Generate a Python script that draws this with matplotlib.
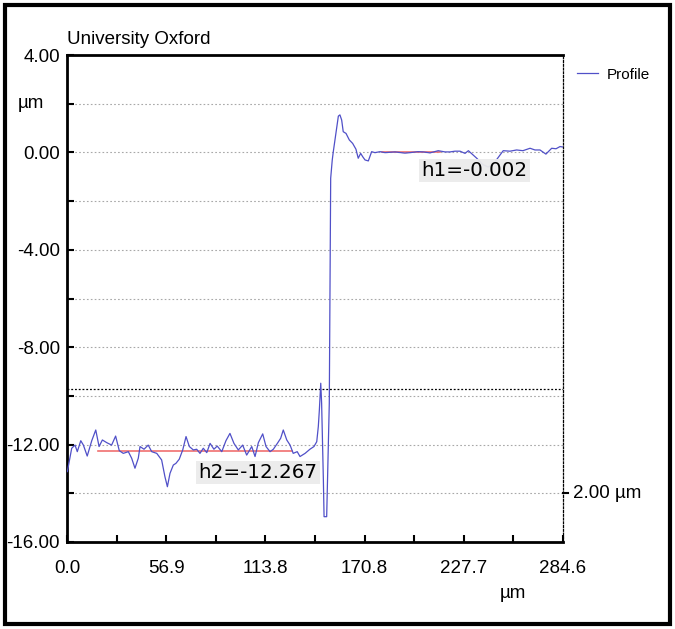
import matplotlib
matplotlib.use("Agg")
import matplotlib.pyplot as plt
from matplotlib.patches import Rectangle
from matplotlib.transforms import blended_transform_factory

# ---------------- data ----------------
x_um = [0.2, 2.7, 4.6, 5.9, 7.9, 9.4, 11.6, 14.2, 16.5, 18.4, 20.3, 22.8, 25.6, 27.9,
        30.0, 32.3, 35.2, 37.1, 39.0, 40.9, 41.9, 44.2, 46.6, 48.6, 51.5, 54.3, 56.2,
        57.6, 59.1, 61.0, 62.5, 64.4, 66.4, 68.3, 70.2, 72.5, 74.4, 76.3, 78.2, 80.2,
        82.1, 84.3, 86.2, 88.8, 91.2, 93.5, 95.8, 98.3, 100.8, 103.1, 106.0, 107.9,
        109.8, 112.3, 114.2, 116.5, 118.4, 120.7, 122.6, 124.1, 126.1, 128.0, 129.8,
        132.1, 133.7, 136.6, 139.4, 141.7, 143.3, 144.2, 144.8, 145.6, 146.1, 147.1,
        147.5, 149.0, 149.4, 150.5, 151.3, 152.2, 152.8, 154.3, 155.7, 156.6, 157.6,
        158.5, 160.1, 162.0, 163.9, 165.8, 167.1, 168.5, 169.7, 171.0, 172.9, 174.8,
        176.7, 179.6, 182.5, 188.2, 193.9, 196.8, 201.4, 204.4, 208.3, 213.0, 216.9,
        219.8, 222.6, 225.5, 228.4, 230.3, 233.1, 235.1, 238.7, 241.6, 244.4, 247.1,
        250.3, 254.2, 258.0, 261.6, 265.7, 268.5, 271.4, 274.8, 278.1, 280.6, 282.9,
        284.6]
z_um = [-13.11, -12.15, -12.02, -12.29, -11.84, -12.02, -12.47, -11.84, -11.40, -12.08,
        -11.81, -11.92, -12.02, -11.65, -12.25, -12.36, -12.29, -12.56, -12.97, -12.56,
        -12.08, -12.19, -12.02, -12.29, -12.36, -12.63, -13.32, -13.73, -13.18, -12.84,
        -12.77, -12.60, -12.22, -11.67, -12.08, -12.22, -12.19, -12.36, -12.15, -12.33,
        -11.95, -12.19, -12.06, -12.29, -11.84, -11.54, -11.95, -12.22, -12.02, -12.43,
        -12.08, -12.49, -11.92, -11.56, -12.08, -12.29, -12.19, -11.95, -11.74, -11.40,
        -11.81, -12.02, -12.36, -12.29, -12.49, -12.36, -12.19, -12.08, -11.88, -11.26,
        -10.58, -9.48, -10.30, -13.45, -14.96, -14.96, -13.73, -10.30, -1.06, -0.31,
        0.03, 0.78, 1.49, 1.54, 1.33, 0.85, 0.78, 0.51, 0.37, 0.13, -0.24, -0.04, -0.18,
        -0.31, -0.35, 0.03, -0.01, 0.03, -0.01, 0.02, -0.03, -0.01, 0.03, 0.02, -0.02,
        0.07, 0.02, 0.02, 0.05, 0.05, -0.04, 0.07, -0.11, -0.24, -0.50, -0.60, -0.50,
        -0.24, 0.07, 0.05, 0.10, 0.07, 0.17, 0.10, 0.10, -0.07, 0.17, 0.15, 0.24, 0.22]

h1_value = -0.002
h1_range = [181.0, 214.0]
h2_value = -12.267
h2_range = [17.8, 129.1]
ref_level = -9.72

x_ticks = [0.0, 28.46, 56.92, 85.38, 113.84, 142.3, 170.76, 199.22, 227.68, 256.14, 284.6]
x_tick_labels = ["0.0", "", "56.9", "", "113.8", "", "170.8", "", "227.7", "", "284.6"]
y_ticks = [4, 2, 0, -2, -4, -6, -8, -10, -12, -14, -16]
y_tick_labels = ["4.00", "", "0.00", "", "-4.00", "", "-8.00", "", "-12.00", "", "-16.00"]

# ---------------- figure ----------------
plt.rcParams["font.family"] = ["Liberation Sans", "DejaVu Sans"]
fig = plt.figure(figsize=(6.75, 6.29), dpi=100)
ax = fig.add_axes([67 / 675, 1 - 542 / 629, 496 / 675, 487 / 629])

line_col = "#5050c8"
ax.plot(x_um, z_um, color=line_col, lw=0.9, label="Profile", zorder=3)
ax.plot(h1_range, [h1_value, h1_value], color="#f07070", lw=1.2, zorder=2.5)
ax.plot(h2_range, [h2_value, h2_value], color="#f07070", lw=1.2, zorder=2.5)
ax.axhline(ref_level, color="black", lw=0.9, ls=(0, (1.5, 1.5)), zorder=2)

ax.set_xlim(0, 284.6)
ax.set_ylim(-16, 4)
ax.set_xticks(x_ticks)
ax.set_xticklabels(x_tick_labels)
ax.set_yticks(y_ticks)
ax.set_yticklabels(y_tick_labels)
ax.tick_params(axis="both", direction="in", length=5, width=1.5, labelsize=13.5, colors="black")
ax.tick_params(axis="x", pad=13)
ax.tick_params(axis="y", pad=5)
ax.grid(axis="y", color="#a8a8a8", lw=0.8, ls=(0, (1.5, 2)))
ax.set_axisbelow(True)

for s in ["left", "bottom", "top"]:
    ax.spines[s].set_linewidth(2.0)
    ax.spines[s].set_color("black")
ax.spines["right"].set_linewidth(0.9)
ax.spines["right"].set_linestyle((0, (1.5, 1.5)))

# texts
ax.text(0.0, 1.022, "University Oxford", transform=ax.transAxes, ha="left", va="baseline", fontsize=13.5)
tr = blended_transform_factory(fig.transFigure, ax.transData)
ax.text(18 / 675, 2, "µm", transform=tr, ha="left", va="center", fontsize=13.5)
ax.text(0.9, -0.105, "µm", transform=ax.transAxes, ha="center", va="center", fontsize=13.5)

tr2 = blended_transform_factory(ax.transAxes, ax.transData)
ax.plot([1.0, 1.01], [-14, -14], transform=tr2, color="black", lw=1.5, clip_on=False)
ax.text(1.02, -14, "2.00 µm", transform=tr2, ha="left", va="center", fontsize=13.5)

box = dict(boxstyle="square,pad=0.12", fc="#ebebeb", ec="none", alpha=0.95)
ax.text(233.8, -0.74, "h1=-0.002", ha="center", va="center", fontsize=14.3,
        family="DejaVu Sans", bbox=box, zorder=5)
ax.text(109.6, -13.15, "h2=-12.267", ha="center", va="center", fontsize=14.3,
        family="DejaVu Sans", bbox=box, zorder=5)

leg = ax.legend(loc="upper left", bbox_to_anchor=(1.028, 0.974), frameon=False,
                fontsize=11, handlelength=1.4, handletextpad=0.55, borderpad=0, borderaxespad=0)

# outer border
fig.patches.append(Rectangle((5 / 675, 1 - 623.5 / 629), 664.5 / 675, 618.5 / 629,
                             transform=fig.transFigure, fill=False, ec="black", lw=3))

fig.savefig("out.png", dpi=100)
